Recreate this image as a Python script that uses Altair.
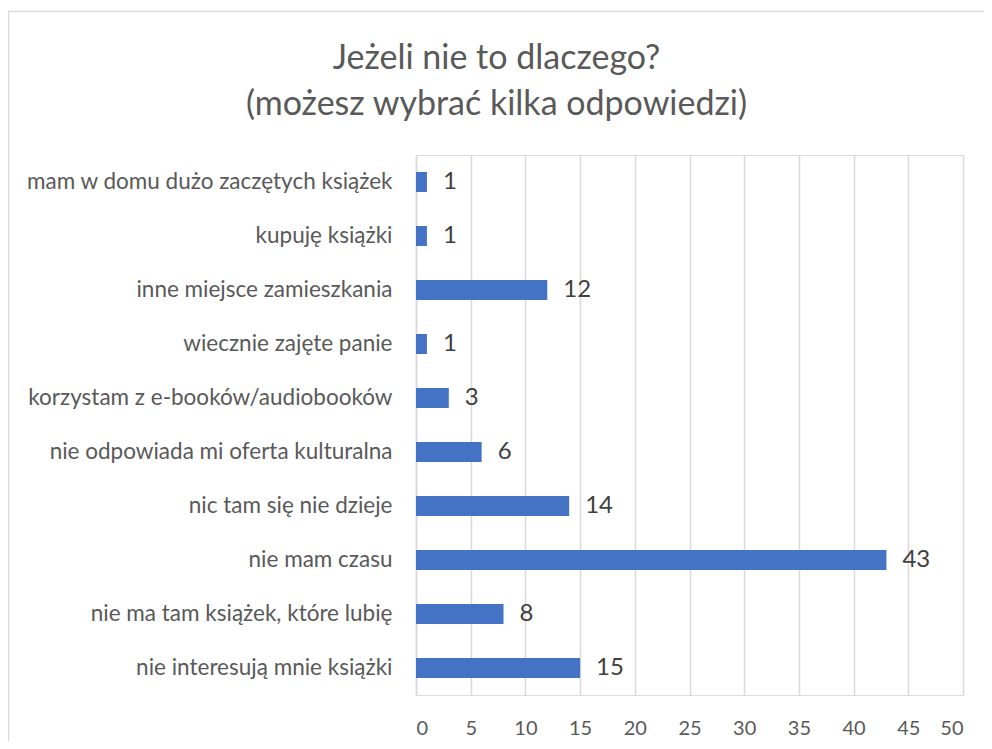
import altair as alt
import pandas as pd

categories = [
    "mam w domu dużo zaczętych książek",
    "kupuję książki",
    "inne miejsce zamieszkania",
    "wiecznie zajęte panie",
    "korzystam z e-booków/audiobooków",
    "nie odpowiada mi oferta kulturalna",
    "nic tam się nie dzieje",
    "nie mam czasu",
    "nie ma tam książek, które lubię",
    "nie interesują mnie książki",
]
values = [1, 1, 12, 1, 3, 6, 14, 43, 8, 15]
x_ticks = [0, 5, 10, 15, 20, 25, 30, 35, 40, 45, 50]
title_lines = ["Jeżeli nie to dlaczego?", "(możesz wybrać kilka odpowiedzi)"]

df = pd.DataFrame({"kategoria": categories, "liczba": values})

FONT = "Lato"
W, H = 547, 540
PL, PT, PR, PB = 408, 147, 21, 46

x_enc = alt.X(
    "liczba:Q",
    scale=alt.Scale(domain=[0, 50], nice=False),
    axis=alt.Axis(
        values=x_ticks, title=None, domain=False, ticks=False,
        grid=True, gridColor="#d9d9d9", gridWidth=1.5,
        labelFont=FONT, labelFontSize=20, labelColor="#595959",
        labelPadding=23,
    ),
)
y_enc = alt.Y(
    "kategoria:N",
    sort=categories,
    scale=alt.Scale(paddingInner=0.63, paddingOuter=0.315),
    axis=alt.Axis(
        title=None, ticks=False, domain=True, domainColor="#d9d9d9", domainWidth=1.5,
        labelFont=FONT, labelFontSize=22.5, labelColor="#595959",
        labelPadding=24, labelLimit=400,
    ),
)

base = alt.Chart(df)
bars = base.mark_bar(color="#4472C4").encode(x=x_enc, y=y_enc)
texts = base.mark_text(
    align="left", baseline="middle", dx=16, font=FONT, fontSize=24, color="#404040"
).encode(x="liczba:Q", y=alt.Y("kategoria:N", sort=categories), text="liczba:Q")

border_top = alt.Chart(pd.DataFrame({"a": [0]})).mark_rule(color="#d9d9d9", strokeWidth=1.5).encode(
    x=alt.value(-PL), x2=alt.value(W + PR), y=alt.value(-PT + 3.5)
)
border_left = alt.Chart(pd.DataFrame({"a": [0]})).mark_rule(color="#d9d9d9", strokeWidth=1.5).encode(
    x=alt.value(-PL + 0.5), y=alt.value(-PT + 3.5), y2=alt.value(H + PB)
)

chart = alt.layer(bars, texts, border_top, border_left).properties(
    width=W,
    height=H,
    title=alt.TitleParams(
        text=title_lines, font=FONT, fontSize=34, fontWeight="normal",
        color="#595959", lineHeight=46, anchor="middle", frame="group",
        dx=-193, offset=-111,
    ),
    autosize=alt.AutoSizeParams(type="none"),
    padding={"left": PL, "top": PT, "right": PR, "bottom": PB},
).configure_view(stroke=None).configure(background="white")

chart.save("out.html", embed_options={"renderer": "svg", "actions": False})
